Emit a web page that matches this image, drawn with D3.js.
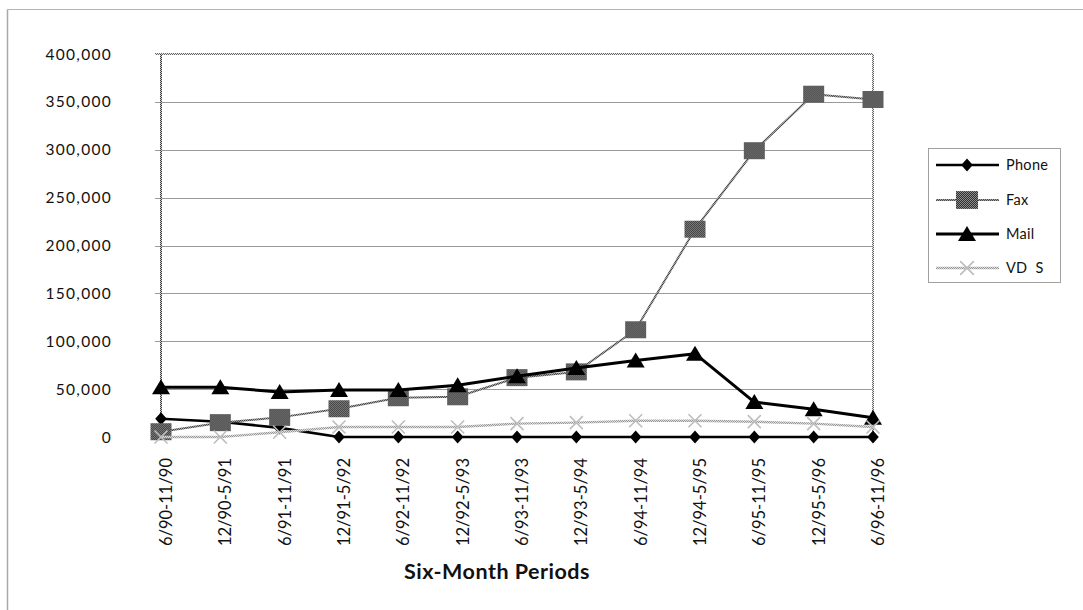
<!DOCTYPE html>
<html>
<head>
<meta charset="utf-8">
<script src="https://cdn.jsdelivr.net/npm/d3@7"></script>
<style>
  html, body { margin: 0; padding: 0; background: #fff; }
  svg { display: block; }
  text { font-family: Lato, "Noto Sans", sans-serif; fill: #111; }
</style>
</head>
<body>
<svg id="chart" width="1083" height="610"></svg>
<script>
// Six-month periods and request counts per channel
const categories = ["6/90-11/90","12/90-5/91","6/91-11/91","12/91-5/92","6/92-11/92","12/92-5/93","6/93-11/93","12/93-5/94","6/94-11/94","12/94-5/95","6/95-11/95","12/95-5/96","6/96-11/96"];
const phone = [19000,16000,9500,0,0,0,0,0,0,0,0,0,0];
const fax   = [5500,15000,20500,29500,41000,42000,62000,68000,112000,217000,299000,358000,352500];
const mail  = [52000,52000,47000,49000,49000,54000,63500,72000,80000,87000,36500,29000,20000];
const vds   = [0,0,5000,10500,10500,10500,14000,15000,17000,17000,16000,14000,10500];
const yTicks = [0,50000,100000,150000,200000,250000,300000,350000,400000];
const seriesNames = ["Phone","Fax","Mail","VD  S"];

const svg = d3.select("#chart");
const plot = { left: 161, right: 873, top: 54, bottom: 437 };

// checker patterns give the dithered grey look of the lines and markers
const defs = svg.append("defs");
function checker(id, a, b) {
  const p = defs.append("pattern").attr("id", id)
    .attr("width", 2).attr("height", 2).attr("patternUnits", "userSpaceOnUse");
  p.append("rect").attr("width", 2).attr("height", 2).attr("fill", b);
  p.append("rect").attr("width", 1).attr("height", 1).attr("fill", a);
  p.append("rect").attr("x", 1).attr("y", 1).attr("width", 1).attr("height", 1).attr("fill", a);
}
checker("faxFill", "#333", "#8a8a8a");
checker("faxLine", "#4a4a4a", "#a0a0a0");
checker("vdsLine", "#999", "#dcdcdc");
checker("frameDark", "#3a3a3a", "#cfcfcf");
checker("frameLight", "#666", "#e6e6e6");

// outer frame (only top and left edges fall inside the page)
svg.append("line").attr("x1", 7.5).attr("x2", 1083).attr("y1", 9.5).attr("y2", 9.5)
  .attr("stroke", "#b4b4b4").attr("stroke-width", 1);
svg.append("line").attr("x1", 7.5).attr("x2", 7.5).attr("y1", 9.5).attr("y2", 610)
  .attr("stroke", "#a8a8a8").attr("stroke-width", 1.5);

const x = d3.scalePoint().domain(categories).range([plot.left, plot.right]).padding(0);
const y = d3.scaleLinear().domain([0, 400000]).range([plot.bottom, plot.top]);

// horizontal gridlines with their short tick stubs
svg.append("g").selectAll("line").data(yTicks.filter(d => d > 0 && d < 400000)).join("line")
  .attr("x1", plot.left - 6).attr("x2", plot.right)
  .attr("y1", d => Math.round(y(d)) + 0.5).attr("y2", d => Math.round(y(d)) + 0.5)
  .attr("stroke", "#9a9a9a").attr("stroke-width", 1);

// plot area edges
svg.append("line").attr("x1", plot.left - 6).attr("x2", plot.right).attr("y1", plot.top).attr("y2", plot.top)
  .attr("stroke", "url(#frameLight)").attr("stroke-width", 2);
svg.append("line").attr("x1", plot.left).attr("x2", plot.left).attr("y1", plot.top).attr("y2", plot.bottom)
  .attr("stroke", "url(#frameDark)").attr("stroke-width", 2);
svg.append("line").attr("x1", plot.right).attr("x2", plot.right).attr("y1", plot.top).attr("y2", plot.bottom)
  .attr("stroke", "url(#frameLight)").attr("stroke-width", 2);

// y-axis labels
svg.append("g").selectAll("text").data(yTicks).join("text")
  .attr("x", 112).attr("y", d => y(d) + 5.5)
  .attr("text-anchor", "end")
  .style("font-size", "15.5px").style("letter-spacing", "1.3px")
  .text(d => d3.format(",")(d));

// category labels, rotated
svg.append("g").selectAll("text").data(categories).join("text")
  .attr("transform", d => `translate(${x(d) + 11},458) rotate(-90)`)
  .attr("text-anchor", "end")
  .style("font-size", "16.5px")
  .text(d => d);

// axis title
svg.append("text").attr("x", 497).attr("y", 579).attr("text-anchor", "middle")
  .style("font-size", "21.5px").style("font-weight", "700").style("letter-spacing", "0.5px")
  .text("Six-Month Periods");

// marker shapes
const shapes = {
  diamond: (g, s) => g.append("path").attr("d", `M0,${-6.5*s}L${5.8*s},0L0,${6.5*s}L${-5.8*s},0Z`).attr("fill", "#000"),
  square: (g, s) => g.append("rect").attr("x", -10.5*s).attr("y", -8.5*s).attr("width", 21*s).attr("height", 17*s)
      .attr("fill", "url(#faxFill)"),
  triangle: (g, s) => g.append("path").attr("d", `M0,${-8*s}L${9*s},${7*s}L${-9*s},${7*s}Z`).attr("fill", "#000"),
  cross: (g, s) => g.append("path").attr("d", `M${-6.5*s},${-6.5*s}L${6.5*s},${6.5*s}M${-6.5*s},${6.5*s}L${6.5*s},${-6.5*s}`)
      .attr("stroke", "#bdbdbd").attr("stroke-width", 1.6).attr("fill", "none")
};

const series = [
  { name: seriesNames[0], values: phone, stroke: "#000", width: 2.6, shape: "diamond" },
  { name: seriesNames[1], values: fax, stroke: "url(#faxLine)", width: 2, shape: "square" },
  { name: seriesNames[2], values: mail, stroke: "#000", width: 3, shape: "triangle" },
  { name: seriesNames[3], values: vds, stroke: "url(#vdsLine)", width: 2.4, shape: "cross" }
];

const line = d3.line().x((d, i) => x(categories[i])).y(d => y(d));

series.forEach(s => {
  const g = svg.append("g");
  g.append("path").datum(s.values).attr("d", line)
    .attr("fill", "none").attr("stroke", s.stroke).attr("stroke-width", s.width)
    .attr("stroke-linejoin", "round");
  s.values.forEach((v, i) => {
    const m = g.append("g").attr("transform", `translate(${x(categories[i])},${y(v)})`);
    shapes[s.shape](m, 1);
  });
});

// legend
const legend = svg.append("g");
legend.append("rect").attr("x", 928.5).attr("y", 148.5).attr("width", 132).attr("height", 134)
  .attr("fill", "#fff").attr("stroke", "#a0a0a0").attr("stroke-width", 1);
const legendY = [165, 200, 234, 268];
const legendScale = [1, 1.05, 1, 1.05];
series.forEach((s, i) => {
  const ly = legendY[i];
  legend.append("line").attr("x1", 936).attr("x2", 999).attr("y1", ly).attr("y2", ly)
    .attr("stroke", s.stroke).attr("stroke-width", s.width);
  const m = legend.append("g").attr("transform", `translate(967,${ly})`);
  shapes[s.shape](m, legendScale[i]);
  legend.append("text").attr("x", 1006).attr("y", ly + 5)
    .style("font-size", "14.5px").style("letter-spacing", "0.3px").style("white-space", "pre")
    .text(s.name);
});
</script>
</body>
</html>
